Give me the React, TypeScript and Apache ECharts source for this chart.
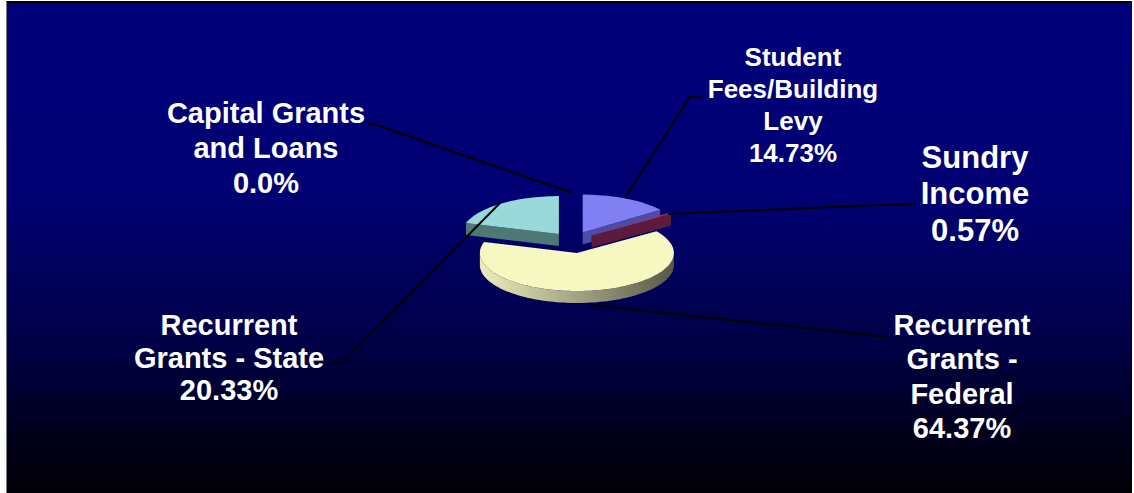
import { useEffect, useRef } from "react";
import * as echarts from "echarts";

// ---- data ----
const categories = [
  "Student\nFees/Building\nLevy",
  "Sundry\nIncome",
  "Recurrent\nGrants -\nFederal",
  "Recurrent\nGrants - State",
  "Capital Grants\nand Loans",
];
const values = [14.73, 0.57, 64.37, 20.33, 0.0];
const percentLabels = ["14.73%", "0.57%", "64.37%", "20.33%", "0.0%"];

// ---- styles ----
const topColors = ["#8080f2", "#993366", "#f7f7c2", "#9ad9d9", "#660066"];
const sideColors = ["#4c4ca6", "#5c1a3c", "#a8a87e", "#4d7876", "#3a003a"];
const wallStops = [
  ["#6a6ad0", "#3a3a80"],
  ["#7a2a50", "#4a1030"],
  ["#eeeebb", "#58584a"],
  ["#86bcbc", "#3e6260"],
  ["#550055", "#330033"],
];
const explode = [24, 24, 31, 22, 0];
const labelLayout = [
  { x: 793, y: 41, size: 26, lh: 32 },
  { x: 975, y: 139, size: 31, lh: 36.5 },
  { x: 962, y: 308, size: 29, lh: 34.3 },
  { x: 229, y: 309, size: 29, lh: 32.5 },
  { x: 266, y: 95.5, size: 29, lh: 35 },
];
const leaderLines = [
  [[702, 97], [690, 97], [625, 198]],
  [[668, 214], [880, 205], [915, 204]],
  [[590, 305], [888, 337]],
  [[333, 363], [342, 363], [500, 203]],
  [[368, 124], [374, 124], [572, 193]],
];
const PIE = { cx: 572, cy: 241, a: 97, b: 38, t: 12 };

const rad = (d: number) => (d * Math.PI) / 180;

function renderPie(_params: any, _api: any) {
  const { cx, cy, a, b, t } = PIE;
  const k = b / a;
  const total = values.reduce((s, v) => s + v, 0);
  let acc = 0;
  const slices = values.map((v, i) => {
    const a1 = (acc / total) * 360;
    acc += v;
    const a2 = (acc / total) * 360;
    const m = (a1 + a2) / 2;
    const tip = [cx + explode[i] * Math.sin(rad(m)), cy - explode[i] * k * Math.cos(rad(m))];
    return { i, v, a1, a2, tip };
  });
  const rim = (tip: number[], th: number, dy = 0) => [
    tip[0] + a * Math.sin(rad(th)),
    tip[1] - b * Math.cos(rad(th)) + dy,
  ];
  const order = slices.filter((s) => s.v > 0).sort((p, q) => p.tip[1] - q.tip[1]);
  const children: any[] = [];
  order.forEach((s) => {
    const { i, a1, a2, tip } = s;
    // outer wall
    const lo = Math.max(a1, 90);
    const hi = Math.min(a2, 270);
    if (hi > lo) {
      const top: number[][] = [];
      const bot: number[][] = [];
      const n = Math.max(4, Math.ceil((hi - lo) / 2));
      for (let j = 0; j <= n; j++) {
        const th = lo + ((hi - lo) * j) / n;
        top.push(rim(tip, th));
        bot.push(rim(tip, th, t));
      }
      children.push({
        type: "polygon",
        shape: { points: top.concat(bot.reverse()) },
        style: {
          fill: new echarts.graphic.LinearGradient(
            tip[0] - a, 0, tip[0] + a, 0,
            [
              { offset: 0, color: wallStops[i][0] },
              { offset: 1, color: wallStops[i][1] },
            ],
            true
          ),
        },
      });
    }
    // cut faces
    const faces: number[] = [];
    if (Math.sin(rad(a1)) < -0.001) faces.push(a1);
    if (Math.sin(rad(a2)) > 0.001) faces.push(a2);
    faces.forEach((th) => {
      const p1 = rim(tip, th);
      children.push({
        type: "polygon",
        shape: { points: [tip, p1, [p1[0], p1[1] + t], [tip[0], tip[1] + t]] },
        style: { fill: sideColors[i] },
      });
    });
    // top face
    const pts: number[][] = [tip];
    const n = Math.max(2, Math.ceil((a2 - a1) / 2));
    for (let j = 0; j <= n; j++) pts.push(rim(tip, a1 + ((a2 - a1) * j) / n));
    children.push({
      type: "polygon",
      shape: { points: pts },
      style: { fill: topColors[i] },
    });
  });
  return { type: "group", children };
}

export default function App() {
  const ref = useRef<HTMLDivElement>(null);
  useEffect(() => {
    if (!ref.current) return;
    const chart = echarts.init(ref.current, undefined, { renderer: "svg" });
    const font = '"Liberation Sans", Arial, sans-serif';
    const graphics: any[] = [
      {
        type: "rect",
        z: -10,
        shape: { x: 6, y: 1, width: 1126, height: 493 },
        style: {
          fill: new echarts.graphic.LinearGradient(0, 0, 0, 1, [
            { offset: 0, color: "#00007b" },
            { offset: 0.4, color: "#000072" },
            { offset: 0.7, color: "#000046" },
            { offset: 0.9, color: "#000018" },
            { offset: 1, color: "#020005" },
          ]),
        },
      },
      { type: "rect", z: -9, shape: { x: 6, y: 1, width: 1126, height: 2 }, style: { fill: "#000000" } },
      { type: "rect", z: -9, shape: { x: 6, y: 1, width: 1, height: 493 }, style: { fill: "#808080" } },
    ];
    categories.forEach((c, i) => {
      const L = labelLayout[i];
      graphics.push({
        type: "text",
        z: 20,
        style: {
          text: c + "\n" + percentLabels[i],
          x: L.x,
          y: L.y,
          align: "center",
          verticalAlign: "top",
          lineHeight: L.lh,
          fill: "#ffffff",
          fontFamily: font,
          fontWeight: "bold",
          fontSize: L.size,
        },
      });
      graphics.push({
        type: "polyline",
        z: 15,
        shape: { points: leaderLines[i] },
        style: { stroke: "#000000", lineWidth: 2, fill: null },
      });
    });
    chart.setOption({
      animation: false,
      graphic: graphics,
      series: [
        {
          type: "custom",
          coordinateSystem: "none",
          renderItem: renderPie,
          data: [0],
          z: 5,
          silent: true,
        },
      ],
    });
    return () => chart.dispose();
  }, []);
  return (
    <div style={{ position: "fixed", left: 0, top: 0, width: 1134, height: 493, background: "#ffffff" }}>
      <div ref={ref} style={{ width: 1134, height: 493 }} />
    </div>
  );
}
